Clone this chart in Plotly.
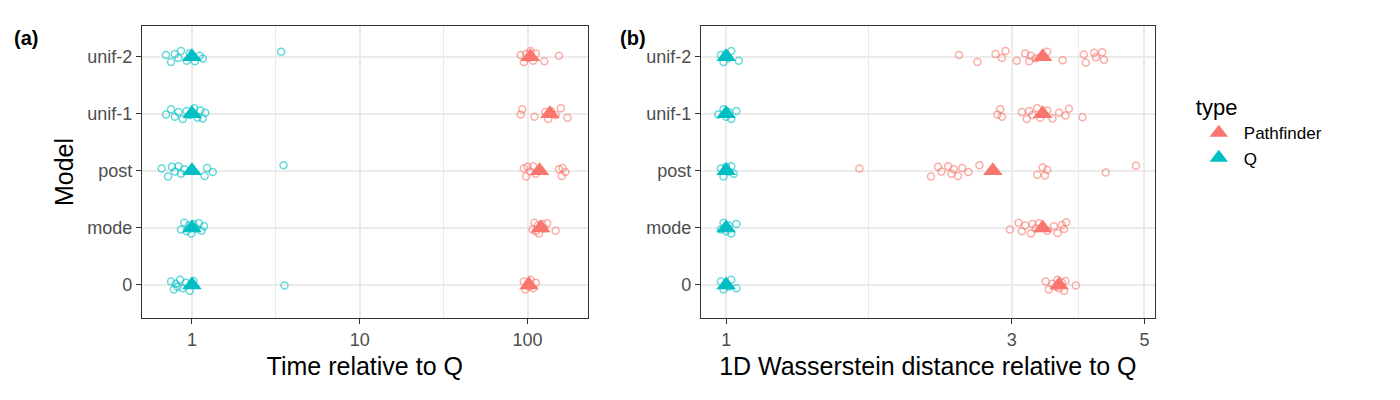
import plotly.graph_objects as go

models = ["0", "mode", "post", "unif-1", "unif-2"]
red = "#F8766D"
teal = "#00BFC4"

# time relative to Q (panel a)
time_q = {
    "0": [0.75, 0.78, 0.80, 0.82, 0.85, 0.88, 0.92, 0.97, 1.02, 3.56],
    "mode": [0.86, 0.90, 0.93, 0.96, 0.99, 1.02, 1.06, 1.10, 1.14, 1.18],
    "post": [0.66, 0.72, 0.76, 0.79, 0.83, 0.86, 0.90, 1.19, 1.23, 1.33, 3.51],
    "unif-1": [0.70, 0.75, 0.79, 0.83, 0.88, 0.93, 0.97, 1.03, 1.08, 1.12, 1.16, 1.20],
    "unif-2": [0.70, 0.75, 0.79, 0.83, 0.86, 0.93, 0.97, 1.04, 1.11, 1.16, 3.40],
}
time_pf = {
    "0": [95, 97, 100, 102, 104, 108, 112],
    "mode": [107, 110, 112, 115, 117, 122, 126, 131, 147],
    "post": [95, 98, 100, 104, 108, 112, 154, 160, 162, 168],
    "unif-1": [91, 93, 110, 128, 133, 138, 147, 158, 173],
    "unif-2": [91, 95, 98, 101, 104, 108, 112, 126, 154],
}
time_q_mean = {"0": 1.0, "mode": 1.0, "post": 1.0, "unif-1": 1.0, "unif-2": 1.0}
time_pf_mean = {"0": 102, "mode": 120, "post": 118, "unif-1": 136, "unif-2": 104}

# 1D Wasserstein distance relative to Q (panel b)
w_q = {
    "0": [0.98, 0.99, 1.0, 1.01, 1.02, 1.04],
    "mode": [0.98, 0.99, 1.0, 1.01, 1.02, 1.04],
    "post": [0.98, 0.99, 1.0, 1.01, 1.02, 1.03],
    "unif-1": [0.97, 0.99, 1.0, 1.01, 1.02, 1.04],
    "unif-2": [0.98, 0.99, 1.0, 1.01, 1.02, 1.05],
}
w_pf = {
    "0": [3.42, 3.46, 3.51, 3.56, 3.58, 3.60, 3.64, 3.67, 3.69, 3.84],
    "mode": [2.98, 3.08, 3.12, 3.16, 3.23, 3.25, 3.29, 3.33, 3.44, 3.53, 3.58, 3.64, 3.67, 3.70],
    "post": [1.67, 2.20, 2.26, 2.29, 2.35, 2.38, 2.40, 2.44, 2.48, 2.54, 2.65, 3.31, 3.38, 3.41, 3.44, 4.31, 4.84],
    "unif-1": [2.84, 2.87, 2.89, 3.12, 3.18, 3.21, 3.25, 3.31, 3.35, 3.44, 3.51, 3.60, 3.69, 3.74, 3.94],
    "unif-2": [2.45, 2.63, 2.82, 2.89, 2.93, 3.06, 3.16, 3.21, 3.23, 3.29, 3.44, 3.65, 3.96, 3.99, 4.12, 4.15, 4.25, 4.28],
}
w_q_mean = {"0": 1.0, "mode": 1.0, "post": 1.0, "unif-1": 1.0, "unif-2": 1.0}
w_pf_mean = {"0": 3.60, "mode": 3.38, "post": 2.79, "unif-1": 3.38, "unif-2": 3.38}

jitter = [0.06, -0.08, 0.02, -0.03, 0.09, -0.06, 0.04, -0.1, 0.07, -0.01, 0.08, -0.05, 0.03, -0.09, 0.05, -0.02, 0.1, -0.07]

fig = go.Figure()

def add_panel(q, pf, qm, pm, xa, ya, legend):
    for name, vals, means, col in [("Q", q, qm, teal), ("Pathfinder", pf, pm, red)]:
        xs, ys = [], []
        for i, m in enumerate(models):
            for j, v in enumerate(vals[m]):
                xs.append(v)
                ys.append(i + 1 + jitter[(j + i * 3) % len(jitter)])
        fig.add_trace(go.Scatter(x=xs, y=ys, mode="markers", xaxis=xa, yaxis=ya, showlegend=False,
                                 marker=dict(symbol="circle-open", size=7, color=col, opacity=0.6,
                                             line=dict(width=1.5))))
    for name, means, col in [("Pathfinder", pm, red), ("Q", qm, teal)]:
        fig.add_trace(go.Scatter(x=[means[m] for m in models], y=list(range(1, 6)), mode="markers",
                                 name=name, xaxis=xa, yaxis=ya, showlegend=legend,
                                 marker=dict(symbol="triangle-up", size=17, color=col)))

add_panel(time_q, time_pf, time_q_mean, time_pf_mean, "x", "y", True)
add_panel(w_q, w_pf, w_q_mean, w_pf_mean, "x2", "y2", False)

axfont = dict(family="Liberation Sans", size=18, color="#4D4D4D")
titlefont = dict(family="Liberation Sans", size=25, color="black")
common_x = dict(type="log", showline=True, mirror=True, linecolor="#333333", linewidth=1.2,
                ticks="outside", ticklen=5, tickcolor="#333333", gridcolor="#EBEBEB", gridwidth=1.5,
                zeroline=False, tickfont=axfont, title_font=titlefont, title_standoff=8)
common_y = dict(range=[0.42, 5.54], tickvals=list(range(1, 6)), ticktext=models, showline=True, mirror=True,
                linecolor="#333333", linewidth=1.2, ticks="outside", ticklen=5, tickcolor="#333333",
                gridcolor="#EBEBEB", gridwidth=1.5, zeroline=False, tickfont=axfont,
                title_font=titlefont, title_standoff=6)

fig.update_layout(
    width=1400, height=400, plot_bgcolor="white", paper_bgcolor="white",
    margin=dict(l=0, r=0, t=18, b=90),
    xaxis=dict(common_x, domain=[0.0957, 0.414], range=[-0.298, 2.358], tickvals=[1, 10, 100],
               ticktext=["1", "10", "100"], title_text="Time relative to Q",
               minor=dict(tickmode="array", tickvals=[3.162, 31.62], showgrid=True, gridcolor="#EBEBEB", gridwidth=0.8, ticks="")),
    yaxis=dict(common_y, domain=[0, 1], anchor="x", title_text="Model"),
    xaxis2=dict(common_x, domain=[0.495, 0.819], range=[-0.042, 0.716], tickvals=[1, 3, 5],
                ticktext=["1", "3", "5"], title_text="1D Wasserstein distance relative to Q", anchor="y2",
                minor=dict(tickmode="array", tickvals=[1.732, 3.873], showgrid=True, gridcolor="#EBEBEB", gridwidth=0.8, ticks="")),
    yaxis2=dict(common_y, domain=[0, 1], anchor="x2"),
    legend=dict(x=0.847, y=0.64, yanchor="middle", title=dict(text="type   ", font=dict(family="Liberation Sans", size=22, color="black")),
                font=dict(family="Liberation Sans", size=17, color="black"), itemwidth=40),
    annotations=[
        dict(text="<b>(a)</b>", x=0.003, y=1.005, xref="paper", yref="paper", showarrow=False,
             xanchor="left", yanchor="top", font=dict(family="Liberation Sans", size=20, color="black")),
        dict(text="<b>(b)</b>", x=0.436, y=1.005, xref="paper", yref="paper", showarrow=False,
             xanchor="left", yanchor="top", font=dict(family="Liberation Sans", size=20, color="black")),
    ],
)

fig.write_html("out.html")
